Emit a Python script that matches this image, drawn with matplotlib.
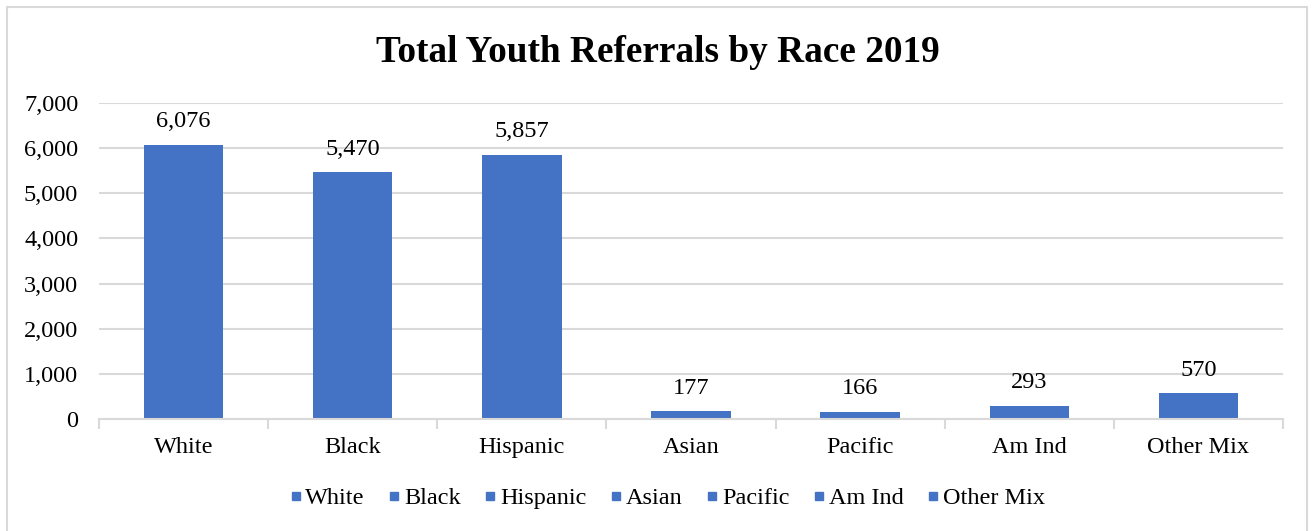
import matplotlib.pyplot as plt
from matplotlib.patches import Rectangle
from matplotlib.lines import Line2D

categories = ['White', 'Black', 'Hispanic', 'Asian', 'Pacific', 'Am Ind', 'Other Mix']
referrals = [6076, 5470, 5857, 177, 166, 293, 570]

plt.rcParams['font.family'] = ['Liberation Serif', 'DejaVu Serif']
bar_color = '#4472C4'
grid_color = '#D9D9D9'
fs = 17.5

fig = plt.figure(figsize=(13.15, 5.31), dpi=100)
ax = fig.add_axes([99 / 1315, 1 - 419 / 531, 1184 / 1315, 316 / 531])

# chart frame like the Excel chart area
fig.patches.append(Rectangle((7 / 1315, -0.01), 1300 / 1315, 1 - 7 / 531 + 0.01,
                             transform=fig.transFigure, fill=False,
                             edgecolor=grid_color, linewidth=1.5))

x = list(range(len(categories)))
ax.bar(x, referrals, width=0.47, color=bar_color, zorder=3)
for xi, v in zip(x, referrals):
    ax.annotate(f'{v:,}', (xi, v), textcoords='offset points', xytext=(0, 9),
                ha='center', va='bottom', fontsize=fs)

ax.set_xlim(-0.5, len(categories) - 0.5)
ax.set_ylim(0, 7000)
ax.set_yticks(range(0, 7001, 1000))
ax.set_yticklabels([f'{t:,}' for t in range(0, 7001, 1000)], fontsize=fs)
ax.set_xticks(x)
ax.set_xticklabels(categories, fontsize=fs)
ax.tick_params(axis='x', length=0, pad=13)
ax.tick_params(axis='y', length=0, pad=15)
# category boundary ticks
ax.set_xticks([i - 0.5 for i in range(len(categories) + 1)], minor=True)
ax.tick_params(axis='x', which='minor', length=7, color=grid_color, width=1.5)

ax.grid(axis='y', color=grid_color, linewidth=1.5, zorder=0)
for s in ['top', 'right', 'left']:
    ax.spines[s].set_visible(False)
ax.spines['bottom'].set_color(grid_color)
ax.spines['bottom'].set_linewidth(1.5)
ax.spines['bottom'].set_zorder(4)

fig.text(0.5, 1 - 52 / 531, 'Total Youth Referrals by Race 2019', ha='center', va='center',
         fontsize=26.8, fontweight='bold')

handles = [Line2D([], [], marker='s', linestyle='none', color=bar_color, markersize=6)
           for _ in categories]
fig.legend(handles, categories, loc='center', bbox_to_anchor=(666 / 1315, 1 - 498 / 531),
           ncol=len(categories), frameon=False, fontsize=fs, handletextpad=0.05,
           columnspacing=0.87, handlelength=0.7)

fig.savefig('out.png', dpi=100)
